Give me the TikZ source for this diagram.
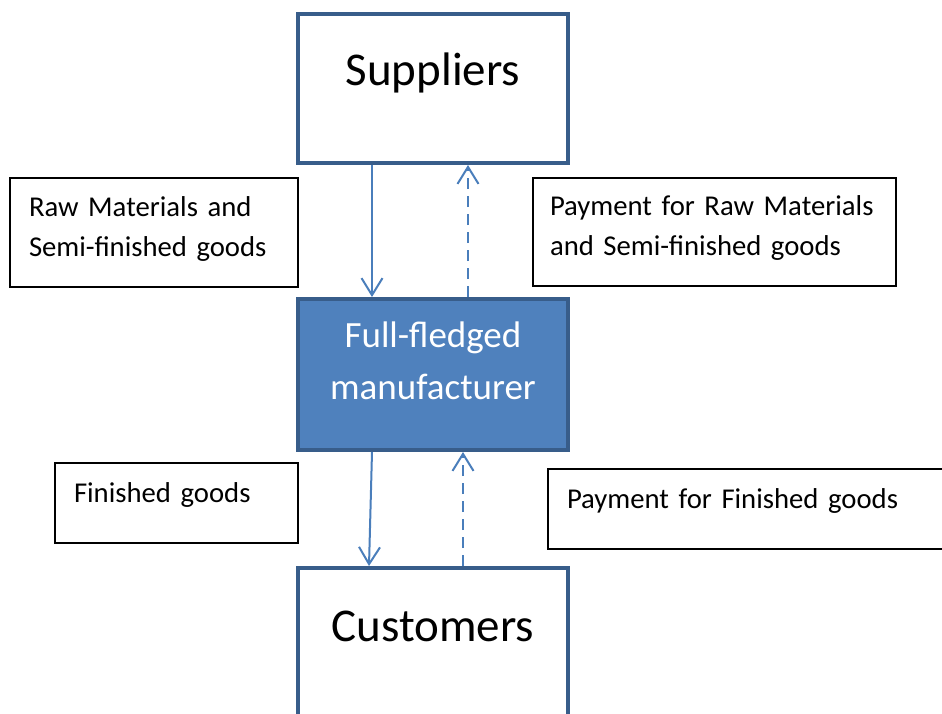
\documentclass[tikz,border=0pt]{standalone}
\usepackage{fontspec}
\setmainfont{Carlito}
\usepackage{tikz}
\usetikzlibrary{positioning}
\usetikzlibrary{arrows.meta,arrows}
\definecolor{boxline}{RGB}{56,93,138}
\definecolor{boxfill}{RGB}{79,129,189}
\definecolor{flowline}{RGB}{74,126,187}

\begin{document}
\begin{tikzpicture}[x=1pt,y=-1pt,
		party/.style={draw=boxline,line width=4pt,minimum width=270pt,inner sep=0pt,font=\fontsize{47}{56}\selectfont},
		note/.style={draw=black,line width=1.2pt,outer sep=0pt,inner xsep=19pt,inner ysep=0pt,anchor=north west,align=left,font=\fontsize{28.7}{40}\selectfont},
		goods/.style={draw=flowline,line width=2pt,-{Straight Barb[length=17pt,width=21pt]}},
		pay/.style={goods,dash pattern=on 11pt off 7pt}]
				\useasboundingbox (0,0) rectangle (942,713);
				\clip (0,0) rectangle (942,713);
				\node[party,minimum height=149pt,text height=30pt,text depth=37pt](supp) at (433,88.5) {Suppliers};
				\node[party,below=132pt of supp,fill=boxfill,text=white,minimum height=151pt,text width=270pt,align=center,text height=40pt,text depth=95pt,font=\fontsize{37}{52}\selectfont](mfr) {Full-fledged\\manufacturer};
				\node[party,below=114pt of mfr,minimum height=150pt,text height=30pt,text depth=34pt](cust) {Customers};
				\node[note,text width=250pt,text height=38pt,text depth=71pt](rawin) at (10,178) {Raw Materials and\\Semi-finished goods};
				\node[note,inner xsep=17pt,text width=329pt,text height=37pt,text depth=71pt](rawpay) at (533,178) {Payment for Raw Materials\\and Semi-finished goods};
				\node[note,text width=205pt,text height=39pt,text depth=41pt](finout) at (55,463) {Finished goods};
				\node[note,text width=382pt,text height=39pt,text depth=41pt](finpay) at (548,469) {Payment for Finished goods};

				\draw[goods] ([xshift=-61pt]supp.south) to ([xshift=-61pt]mfr.north);
				\draw[pay] ([xshift=35pt]mfr.north) to ([xshift=35pt]supp.south);
				\draw[goods] ([xshift=-61pt]mfr.south) to ([xshift=-64pt]cust.north);
				\draw[pay] ([xshift=30pt]cust.north) to ([xshift=30pt]mfr.south);
			\end{tikzpicture}
\end{document}
